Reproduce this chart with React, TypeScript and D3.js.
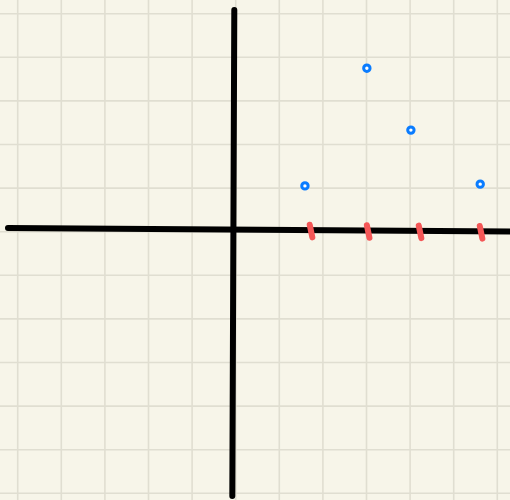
import React from 'react'
import { scaleLinear, range } from 'd3'

// values, in grid units (one grid cell = 1)
const pointX = [1.65, 3.07, 4.08, 5.67]
const pointY = [1.0, 3.7, 2.28, 1.04]
const tickValues = [1.79, 3.1, 4.29, 5.69]

export default function App() {
  const width = 510
  const height = 500
  const unit = 43.6
  const ox = 233
  const oy = 229.5

  const x = scaleLinear().domain([0, 1]).range([ox, ox + unit])
  const y = scaleLinear().domain([0, 1]).range([oy, oy - unit])

  // background grid is offset a bit from the origin
  const gridX = range(-1, 13).map(i => 17.7 + i * unit)
  const gridY = range(-1, 13).map(i => 13.7 + i * unit)

  // slight hand-drawn slope of the horizontal axis
  const slope = 3.5 / (width - 8)
  const axisY = (px: number) => 228 + (px - 8) * slope

  return (
    <svg
      width={width}
      height={height}
      style={{ position: 'fixed', left: 0, top: 0, display: 'block' }}
    >
      <rect width={width} height={height} fill="#f7f5e9" />
      <g stroke="#e0ded1" strokeWidth={1.6}>
        {gridX.map((gx, i) => (
          <line key={'gx' + i} x1={gx} x2={gx} y1={0} y2={height} />
        ))}
        {gridY.map((gy, i) => (
          <line key={'gy' + i} x1={0} x2={width} y1={gy} y2={gy} />
        ))}
      </g>
      <g stroke="#000" strokeWidth={6} strokeLinecap="round">
        <line x1={8} y1={axisY(8)} x2={width + 4} y2={axisY(width + 4)} />
        <line x1={x(0) + 1.3} y1={10} x2={x(0) - 0.7} y2={496} />
      </g>
      <g stroke="#f45757" strokeWidth={6} strokeLinecap="round">
        {tickValues.map((t, i) => {
          const cx = x(t)
          const cy = axisY(cx) + 1
          return (
            <line key={i} x1={cx - 1.3} y1={cy - 6.3} x2={cx + 1.3} y2={cy + 6.3} />
          )
        })}
      </g>
      <g stroke="#0a7cff" strokeWidth={3} fill="#fff">
        {pointX.map((px, i) => (
          <circle key={i} cx={x(px)} cy={y(pointY[i])} r={3.2} />
        ))}
      </g>
    </svg>
  )
}
